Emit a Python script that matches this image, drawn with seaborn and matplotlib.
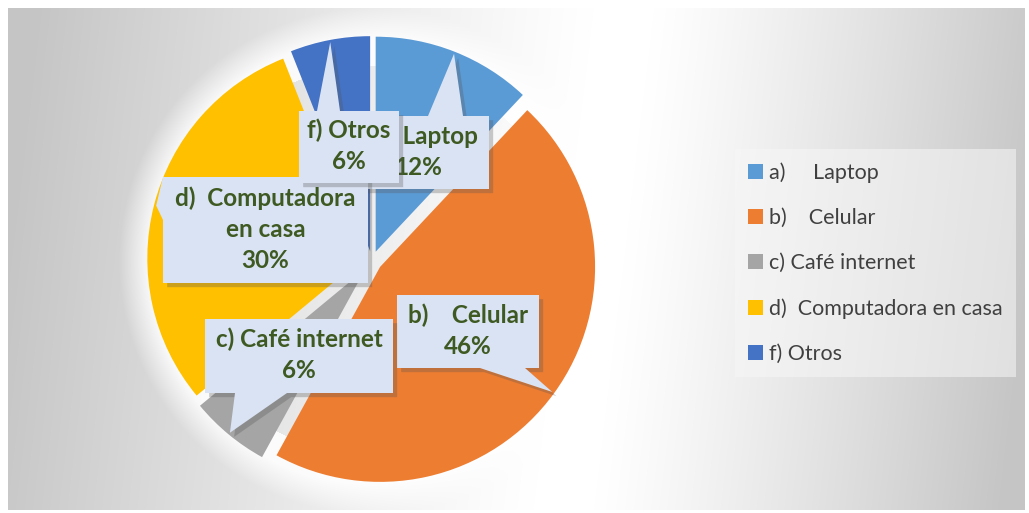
import numpy as np
import matplotlib
matplotlib.use("Agg")
import matplotlib.pyplot as plt
import matplotlib.patheffects as pe
from matplotlib.patches import Polygon
import seaborn as sns

# ---------------- data ----------------
categories = ["a)     Laptop", "b)    Celular", "c) Café internet",
              "d)  Computadora en casa", "f) Otros"]
values = [12, 46, 6, 30, 6]
box_names = ["a)    Laptop", "b)    Celular", "c) Café internet",
             "d)  Computadora\nen casa", "f) Otros"]

# ---------------- style ----------------
colors = sns.color_palette(["#5B9BD5", "#ED7D31", "#A5A5A5", "#FFC000", "#4472C4"])
sns.set_theme(style="white")
plt.rcParams["font.family"] = ["Lato", "DejaVu Sans"]

W, H = 1029, 513
fig = plt.figure(figsize=(W / 100, H / 100), dpi=100)
fig.patch.set_facecolor("white")
ax = fig.add_axes([0, 0, 1, 1])

PC = (372, 261)   # pie centre (image px)
R = 215

# ---------- background gradient ----------
x0b, y0b, x1b, y1b = 8, 8, 1025, 510
xs = np.arange(x0b, x1b) + 0.5
ys = np.arange(y0b, y1b) + 0.5
X, Y = np.meshgrid(xs, ys)
xc = 605 - 0.12 * (Y - 250)
t = np.where(X < xc - 40, (xc - 40 - X) / 560, np.where(X > xc + 20, (X - xc - 20) / 410, 0))
t = np.clip(t, 0, 1)
v = 255 - 58 * t ** 1.15
d = np.hypot(X - PC[0], Y - PC[1])
glow = np.clip(1 - (d - R - 8) / 30, 0, 1) * (d > R - 20)
v = v + (255 - v) * glow * 0.85
img = np.dstack([v, v, v]) / 255.0
ax.imshow(img, extent=(x0b, x1b, H - y1b, H - y0b), origin="upper",
          aspect="auto", zorder=0, interpolation="bilinear")

# ---------------- pie ----------------
wedges, _ = ax.pie(values, colors=colors, startangle=90, counterclock=False,
                   radius=R, center=(PC[0], H - PC[1]), explode=[10] * len(values),
                   frame=True, wedgeprops=dict(linewidth=0, zorder=2))

# ---------------- callout boxes ----------------
# box (x0, y0, x1, y1) in image px, pointer side, pointer base span, zorder
layout = {
    0: ((348, 116, 489, 189), "top", (428, 463), 5),
    1: ((397, 295, 539, 368), "bottom", (480, 525), 5),
    2: ((205, 319, 393, 393), "bottom", (235, 287), 5),
    3: ((163, 177, 368, 283), "left", (177, 220), 6),
    4: ((299, 111, 399, 183), "top", (317, 340), 7),
}
box_fc = "#DAE3F3"
txt_c = "#3E5A22"

for i, w in enumerate(wedges):
    (bx0, by0, bx1, by1), side, (b0, b1), z = layout[i]
    tm = np.deg2rad((w.theta1 + w.theta2) / 2)
    cx, cy = w.center
    ax_ = cx + 0.99 * w.r * np.cos(tm)
    ay_ = H - (cy + 0.99 * w.r * np.sin(tm))
    if side == "top":
        pts = [(bx0, by0), (b0, by0), (ax_, ay_), (b1, by0), (bx1, by0), (bx1, by1), (bx0, by1)]
    elif side == "bottom":
        pts = [(bx0, by0), (bx1, by0), (bx1, by1), (b1, by1), (ax_, ay_), (b0, by1), (bx0, by1)]
    else:
        pts = [(bx0, by0), (bx1, by0), (bx1, by1), (bx0, by1), (bx0, b1), (ax_, ay_), (bx0, b0)]
    pts = [(px, H - py) for px, py in pts]
    poly = Polygon(pts, closed=True, facecolor=box_fc, edgecolor="none", zorder=z,
                   path_effects=[pe.SimplePatchShadow(offset=(3, -3), shadow_rgbFace="#555555", alpha=0.3),
                                 pe.Normal()])
    ax.add_patch(poly)
    ax.text((bx0 + bx1) / 2, H - (by0 + by1) / 2 + 1, f"{box_names[i]}\n{values[i]}%",
            ha="center", va="center", multialignment="center", fontsize=17.5,
            fontweight="bold", color=txt_c, linespacing=1.42, zorder=z + 0.5)

# ---------------- legend ----------------
leg = ax.legend(wedges, categories, loc="center left",
                bbox_to_anchor=(735 / W, 1 - 263 / H), bbox_transform=fig.transFigure,
                borderaxespad=0, frameon=True, fancybox=False, fontsize=15.5,
                handlelength=0.7, handleheight=0.7, handletextpad=0.28,
                labelspacing=1.17, borderpad=0.6)
leg.get_frame().set_facecolor("#f7f7f7")
leg.get_frame().set_alpha(0.55)
leg.get_frame().set_edgecolor("none")
for t_ in leg.get_texts():
    t_.set_color("#404040")
leg.set_zorder(10)

ax.set_xlim(0, W)
ax.set_ylim(0, H)
ax.set_aspect("equal")
ax.axis("off")
fig.savefig("out.png", dpi=100, facecolor="white")
